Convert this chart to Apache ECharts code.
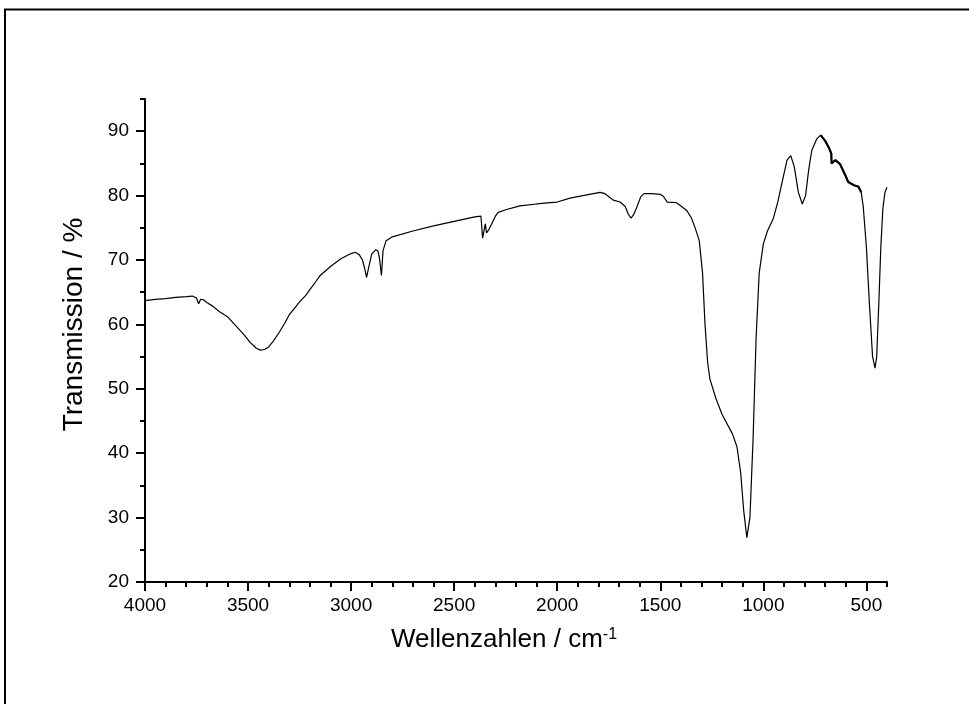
<!DOCTYPE html>
<html><head><meta charset="utf-8">
<script src="https://cdn.jsdelivr.net/npm/echarts@6/dist/echarts.min.js"></script>
<style>html,body{margin:0;padding:0;background:#fff}#c{width:969px;height:704px}</style>
</head><body><div id="c"></div>
<script>
const wavenumbers = [4000,3950,3900,3850,3800,3770,3750,3740,3730,3715,3700,3670,3640,3600,3560,3520,3490,3460,3440,3420,3400,3380,3350,3320,3300,3270,3250,3220,3200,3170,3150,3100,3050,3000,2980,2960,2945,2935,2925,2915,2900,2880,2870,2862,2853,2845,2830,2800,2700,2600,2500,2400,2370,2362,2349,2343,2330,2300,2286,2250,2181,2100,2035,2000,1938,1857,1792,1768,1740,1728,1695,1670,1655,1642,1630,1614,1595,1579,1540,1501,1485,1475,1466,1421,1400,1372,1350,1332,1311,1295,1283,1270,1259,1230,1200,1150,1128,1110,1095,1080,1065,1050,1035,1020,1000,980,952,930,904,885,867,850,830,811,795,780,765,741,722,700,680,670,669,650,628,600,588,560,539,525,515,500,485,470,458,450,440,430,420,410,400];
const transmission = [63.7,63.9,64.0,64.2,64.3,64.4,64.1,63.2,63.9,63.8,63.4,62.8,62.0,61.2,59.8,58.4,57.2,56.3,56.0,56.1,56.5,57.3,58.7,60.3,61.5,62.7,63.5,64.5,65.4,66.7,67.6,69.0,70.2,71.0,71.2,70.8,70.0,68.8,67.3,68.8,70.9,71.6,71.4,70.2,67.6,71.5,73.0,73.6,74.5,75.3,76.0,76.7,76.8,73.4,75.6,74.2,74.8,76.8,77.4,77.8,78.4,78.7,78.9,79.0,79.6,80.1,80.5,80.3,79.6,79.3,79.0,78.3,77.1,76.5,77.0,78.2,79.8,80.3,80.3,80.2,79.9,79.4,79.0,78.9,78.4,77.7,76.6,75.1,73.0,68.0,60.0,54.0,51.5,48.5,46.0,43.0,41.0,37.0,31.0,26.9,30.0,42.0,58.0,68.0,72.5,74.5,76.4,79.0,82.8,85.5,86.2,84.5,80.5,78.7,80.0,84.0,87.0,88.8,89.4,88.5,87.3,86.5,85.0,85.5,84.9,83.0,82.1,81.6,81.4,80.5,78.2,72.0,63.0,55.0,53.2,55.0,63.0,72.0,78.0,80.5,81.3];
const xTickLabels = [4000,3500,3000,2500,2000,1500,1000,500];
const yTickLabels = [20,30,40,50,60,70,80,90];
const noisyRange = [740, 520];

const FONT = 'Liberation Sans, Arial, sans-serif';
const seriesData = wavenumbers.map((w, i) => [w, transmission[i]]);
const noisyData = seriesData.filter(p => p[0] <= noisyRange[0] && p[0] >= noisyRange[1]);

const chart = echarts.init(document.getElementById('c'), null, {renderer: 'canvas'});
chart.setOption({
  animation: false,
  backgroundColor: '#fff',
  grid: {left: 145, right: 82, top: 99, bottom: 122, containLabel: false},
  xAxis: [{
    type: 'value', inverse: true, min: 400, max: 4000, position: 'bottom',
    axisLine: {show: true, lineStyle: {color: '#000', width: 2}},
    axisTick: {show: true, customValues: xTickLabels, length: 9, lineStyle: {color: '#000', width: 2}},
    axisLabel: {customValues: xTickLabels, formatter: v => String(v), fontSize: 19, color: '#000', fontFamily: FONT, margin: 14},
    splitLine: {show: false},
    name: 'Wellenzahlen / cm{sup|-1}', nameLocation: 'middle', nameGap: 45,
    nameTextStyle: {fontSize: 26, color: '#000', fontFamily: FONT, padding: [0, 24, 0, 0],
      rich: {sup: {fontSize: 16, color: '#000', fontFamily: FONT, verticalAlign: 'top'}}}
  }, {
    type: 'value', inverse: true, min: 400, max: 4000, interval: 100, position: 'bottom',
    axisLine: {show: false},
    axisTick: {show: true, length: 5, lineStyle: {color: '#000', width: 2}},
    axisLabel: {show: false}, splitLine: {show: false}
  }],
  yAxis: [{
    type: 'value', min: 20, max: 95, position: 'left',
    axisLine: {show: true, lineStyle: {color: '#000', width: 2}},
    axisTick: {show: true, customValues: yTickLabels, length: 9, lineStyle: {color: '#000', width: 2}},
    axisLabel: {customValues: yTickLabels, formatter: v => String(v), fontSize: 19, color: '#000', fontFamily: FONT, margin: 16},
    splitLine: {show: false},
    name: 'Transmission / %', nameLocation: 'middle', nameGap: 57,
    nameTextStyle: {fontSize: 28, color: '#000', fontFamily: FONT, padding: [0, 0, 0, 32]}
  }, {
    type: 'value', min: 20, max: 95, interval: 5, position: 'left',
    axisLine: {show: false},
    axisTick: {show: true, length: 5, lineStyle: {color: '#000', width: 2}},
    axisLabel: {show: false}, splitLine: {show: false}
  }],
  series: [{
    type: 'line', xAxisIndex: 0, yAxisIndex: 0, data: seriesData,
    showSymbol: false, symbol: 'none',
    lineStyle: {color: '#000', width: 1.2}
  }, {
    type: 'line', xAxisIndex: 0, yAxisIndex: 0, data: noisyData,
    showSymbol: false, symbol: 'none',
    lineStyle: {color: '#000', width: 2.2}
  }],
  graphic: [{
    type: 'rect', shape: {x: 5, y: 9.5, width: 1000, height: 1000},
    style: {fill: 'none', stroke: '#000', lineWidth: 2}, silent: true
  }]
});
</script></body></html>
